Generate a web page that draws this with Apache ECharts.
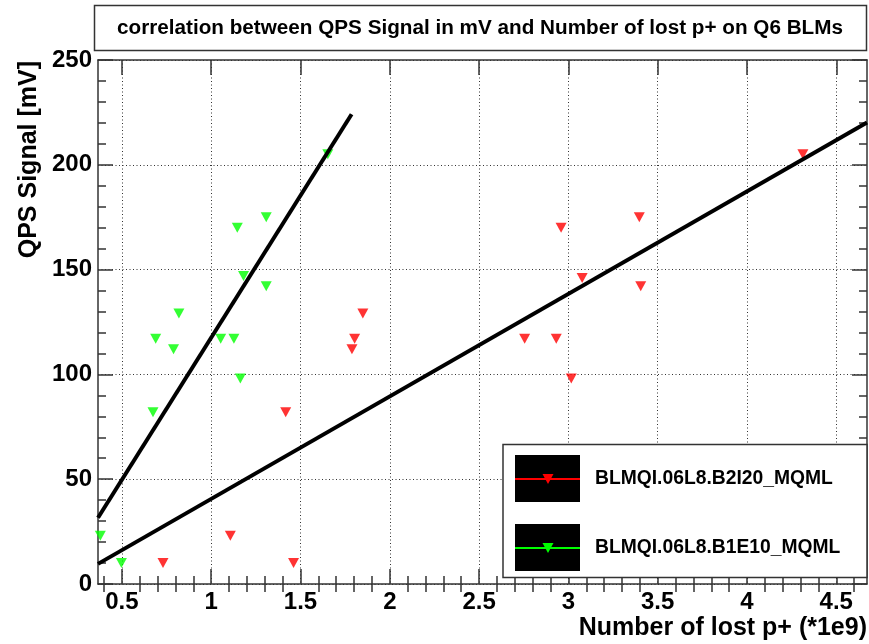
<!DOCTYPE html>
<html><head><meta charset="utf-8">
<script src="https://cdn.jsdelivr.net/npm/echarts@6/dist/echarts.min.js"></script>
<style>html,body{margin:0;padding:0;background:#fff}#c{width:869px;height:644px}</style>
</head><body><div id="c"></div>
<script>
// ---- data ----
const titleText = 'correlation between QPS Signal in mV and Number of lost p+ on Q6 BLMs';
const xTitle = 'Number of lost p+ (*1e9)';
const yTitle = 'QPS Signal [mV]';
const seriesNames = ['BLMQI.06L8.B2I20_MQML', 'BLMQI.06L8.B1E10_MQML'];

const redX = [0.730, 1.107, 1.417, 1.461, 1.788, 1.803, 1.849, 2.755, 2.932, 2.959, 3.016, 3.077, 3.397, 3.405, 4.313];
const redY = [10, 23, 82, 10, 112, 117, 129, 117, 117, 170, 98, 146, 175, 142, 205];

const greenX = [0.379, 0.497, 0.674, 0.689, 0.789, 0.819, 1.053, 1.127, 1.146, 1.163, 1.181, 1.308, 1.308, 1.653];
const greenY = [23, 10, 82, 117, 112, 129, 117, 117, 170, 98, 147, 175, 142, 205];

const redFitX = [0.366, 4.672];
const redFitY = [9.6, 220.2];
const greenFitX = [0.366, 1.786];
const greenFitY = [31.6, 224.1];

const xRange = [0.366, 4.672];
const yRange = [0, 250];
const xMajorTicks = [0.5, 1, 1.5, 2, 2.5, 3, 3.5, 4, 4.5];
const xMinorTicks = [0.4, 0.6, 0.7, 0.8, 0.9, 1.1, 1.2, 1.3, 1.4, 1.6, 1.7, 1.8, 1.9, 2.1, 2.2, 2.3, 2.4,
  2.6, 2.7, 2.8, 2.9, 3.1, 3.2, 3.3, 3.4, 3.6, 3.7, 3.8, 3.9, 4.1, 4.2, 4.3, 4.4, 4.6];
const yInterval = 50;

// ---- chart ----
const font = '"Liberation Sans", Arial, Helvetica, sans-serif';
const zip = (xs, ys) => xs.map((x, i) => [x, ys[i]]);
const axisLine = {show: true, onZero: false, lineStyle: {color: '#333', width: 1.5}};
const tickLS = {color: '#333', width: 1.5};
const gridLine = {show: true, lineStyle: {color: '#333', width: 1, type: [1, 2.5]}};
const labelStyle = {fontSize: 24, fontWeight: 'bold', color: '#000', fontFamily: font};

function xAx(pos, ticks, len, main) {
  return {
    type: 'value', position: pos, min: xRange[0], max: xRange[1],
    axisLine: main ? axisLine : {show: false},
    axisTick: {show: true, inside: true, length: len, customValues: ticks, lineStyle: tickLS},
    axisLabel: (main && pos === 'bottom') ? Object.assign({show: true, customValues: ticks, margin: 6,
      formatter: v => String(+(+v).toFixed(2))}, labelStyle) : {show: false},
    splitLine: (main && pos === 'bottom') ? gridLine : {show: false}
  };
}
function yAx(pos) {
  const left = pos === 'left';
  return {
    type: 'value', position: pos, min: yRange[0], max: yRange[1], interval: yInterval,
    axisLine: axisLine,
    axisTick: {show: true, inside: true, length: 15, lineStyle: tickLS},
    minorTick: {show: true, splitNumber: 5, length: 8, lineStyle: tickLS},
    axisLabel: left ? Object.assign({show: true, margin: 6}, labelStyle) : {show: false},
    splitLine: left ? gridLine : {show: false}
  };
}

const legendTop = [455, 524];
const legendColors = ['#ff0000', '#00ff00'];
const legendGraphics = [
  {type: 'rect', z: 100, shape: {x: 503, y: 444.5, width: 364, height: 133}, style: {fill: '#fff', stroke: '#333', lineWidth: 1.5}}
];
legendTop.forEach((t, i) => {
  const cy = t + 24;
  legendGraphics.push(
    {type: 'rect', z: 101, shape: {x: 515, y: t, width: 65, height: 47}, style: {fill: '#000'}},
    {type: 'line', z: 102, shape: {x1: 515, y1: cy, x2: 580, y2: cy}, style: {stroke: legendColors[i], lineWidth: 2}},
    {type: 'polygon', z: 103, shape: {points: [[542.5, cy - 5], [553.5, cy - 5], [548, cy + 5]]}, style: {fill: legendColors[i]}},
    {type: 'text', z: 103, x: 595, y: cy, style: {text: seriesNames[i], fontSize: 19.3, fontWeight: 'bold', fontFamily: font,
      fill: '#000', align: 'left', verticalAlign: 'middle', textAlign: 'left', textVerticalAlign: 'middle'}}
  );
});

const option = {
  animation: false,
  backgroundColor: '#fff',
  grid: {left: 98, right: 2, top: 60, bottom: 60, containLabel: false},
  xAxis: [xAx('bottom', xMajorTicks, 15, true), xAx('bottom', xMinorTicks, 8, false),
          xAx('top', xMajorTicks, 15, true), xAx('top', xMinorTicks, 8, false)],
  yAxis: [yAx('left'), yAx('right')],
  series: [
    {name: seriesNames[0], type: 'scatter', xAxisIndex: 0, yAxisIndex: 0, data: zip(redX, redY),
     symbol: 'triangle', symbolRotate: 180, symbolSize: [11, 10], itemStyle: {color: '#ff0000'}},
    {name: seriesNames[1], type: 'scatter', xAxisIndex: 0, yAxisIndex: 0, data: zip(greenX, greenY),
     symbol: 'triangle', symbolRotate: 180, symbolSize: [11, 10], itemStyle: {color: '#00ff00'}},
    {name: 'fit1', type: 'line', xAxisIndex: 0, yAxisIndex: 0, data: zip(redFitX, redFitY), symbol: 'none',
     lineStyle: {color: '#000', width: 4}, silent: true},
    {name: 'fit2', type: 'line', xAxisIndex: 0, yAxisIndex: 0, data: zip(greenFitX, greenFitY), symbol: 'none',
     lineStyle: {color: '#000', width: 4}, silent: true}
  ],
  graphic: [
    {type: 'rect', z: 100, shape: {x: 94.5, y: 5.5, width: 772, height: 45}, style: {fill: '#fff', stroke: '#333', lineWidth: 1.5}},
    {type: 'text', z: 101, x: 480, y: 28, style: {text: titleText, fontSize: 20.7, fontWeight: 'bold', fontFamily: font, fill: '#000',
      align: 'center', verticalAlign: 'middle', textAlign: 'center', textVerticalAlign: 'middle'}},
    {type: 'text', z: 101, x: 29, y: 61, rotation: Math.PI / 2, style: {text: yTitle, fontSize: 25, fontWeight: 'bold', fontFamily: font, fill: '#000',
      align: 'right', verticalAlign: 'middle', textAlign: 'right', textVerticalAlign: 'middle'}},
    {type: 'text', z: 101, x: 867, y: 628, style: {text: xTitle, fontSize: 25, fontWeight: 'bold', fontFamily: font, fill: '#000',
      align: 'right', verticalAlign: 'middle', textAlign: 'right', textVerticalAlign: 'middle'}}
  ].concat(legendGraphics)
};
const chart = echarts.init(document.getElementById('c'), null, {renderer: 'canvas'});
chart.setOption(option);
</script>
</body></html>
